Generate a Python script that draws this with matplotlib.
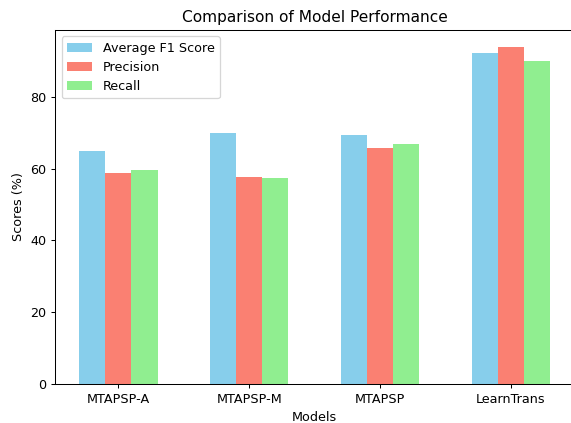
import numpy as np
import matplotlib.pyplot as plt

models = ['MTAPSP-A', 'MTAPSP-M', 'MTAPSP', 'LearnTrans']
f1_scores = [65.0, 69.9, 69.4, 92.1]
precision = [58.9, 57.8, 65.8, 93.9]
recall = [59.7, 57.3, 66.9, 90.1]

x = np.arange(len(models))
width = 0.2

dpi = 92
fig, ax = plt.subplots(figsize=(571 / dpi, 423 / dpi), dpi=dpi)
# right spine falls just outside the picture, as in the reference
fig.subplots_adjust(left=0.097, right=1.005, top=0.929, bottom=0.092)

ax.bar(x - width, f1_scores, width, label='Average F1 Score', color='skyblue')
ax.bar(x, precision, width, label='Precision', color='salmon')
ax.bar(x + width, recall, width, label='Recall', color='lightgreen')

ax.set_xlabel('Models')
ax.set_ylabel('Scores (%)')
ax.set_title('Comparison of Model Performance')
ax.set_xticks(x)
ax.set_xticklabels(models)
ax.legend(loc='upper left')

plt.savefig('out.png', dpi=dpi)
